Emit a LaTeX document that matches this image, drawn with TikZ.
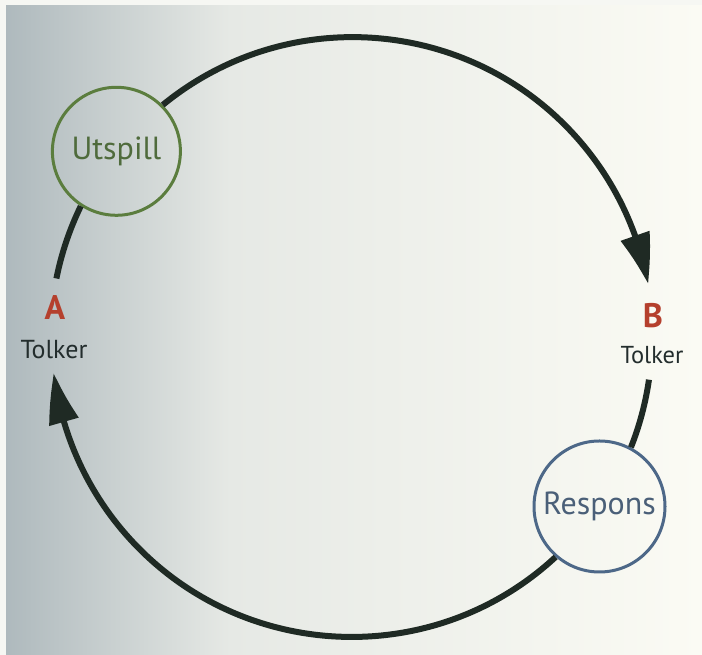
\documentclass[tikz,border=0pt]{standalone}
\usepackage{fontspec}
\setmainfont{PT Sans}
\usetikzlibrary{arrows.meta,bending}

\definecolor{bgleft}{HTML}{ADB8BC}
\definecolor{bgmid}{HTML}{E6E9E5}
\definecolor{bgright}{HTML}{FBFBF4}
\definecolor{bgrim}{HTML}{F6F7F3}
\definecolor{ringcol}{HTML}{1F2A24}
\definecolor{greencol}{HTML}{5B7D3E}
\definecolor{greentext}{HTML}{4F6B3C}
\definecolor{bluecol}{HTML}{4D6888}
\definecolor{bluetext}{HTML}{4A5F78}
\definecolor{redcol}{HTML}{B5402D}
\definecolor{talkcol}{HTML}{232D2D}

\tikzset{
  ring/.style={draw=ringcol, line width=6pt, line cap=butt},
  ringarrow/.style={ring, -{Triangle[length=50pt,width=29pt,bend]}},
  bubble/.style={circle, draw, line width=3pt, inner sep=0pt, fill=none,
                 font=\fontsize{32}{38}\selectfont},
  party/.style={font=\fontsize{34}{38}\selectfont\bfseries, text=redcol, inner sep=0pt},
  talker/.style={font=\fontsize{26}{30}\selectfont, text=talkcol, inner sep=0pt}
}

\begin{document}
\begin{tikzpicture}[x=1pt,y=1pt]
  \useasboundingbox (0,0) rectangle (702,655);

  % paper background: grey at the left edge, brightening towards the right
  \shade[left color=bgleft, right color=bgmid] (0,0) rectangle (230,655);
  \shade[left color=bgmid, right color=bgright] (229.5,0) rectangle (702,655);
  \fill[bgrim] (0,0) rectangle (6,655);
  \fill[bgrim] (0,650) rectangle (702,655);

  % the two message bubbles sitting on the ring
  \node[bubble, draw=greencol, text=greentext, minimum size=128pt] (U) at (116.4,503.7) {Utspill};
  \node[bubble, draw=bluecol, text=bluetext, minimum size=131pt] (R) at (599.5,148.5) {Respons};

  % speakers
  \node[party]  (A)  at (55,347) {A};
  \node[talker] (At) at (54,305) {Tolker};
  \node[party]  (B)  at (653,339) {B};
  \node[talker, font=\fontsize{24.5}{29}\selectfont] (Bt) at (652,300) {Tolker};

  % ring of the conversation, running clockwise
  \draw[ringarrow] (U.45.6) arc[start angle=129.3, end angle=10.2, radius=300pt];
  \draw[ring] (R.62) arc[start angle=-21.6, end angle=-8.2, radius=300pt];
  \draw[ringarrow] (R.229.2) arc[start angle=-47.2, end angle=-173.1, radius=300pt];
  \draw[ring] (U.237.9) arc[start angle=154.1, end angle=168.7, radius=300pt];
\end{tikzpicture}
\end{document}
